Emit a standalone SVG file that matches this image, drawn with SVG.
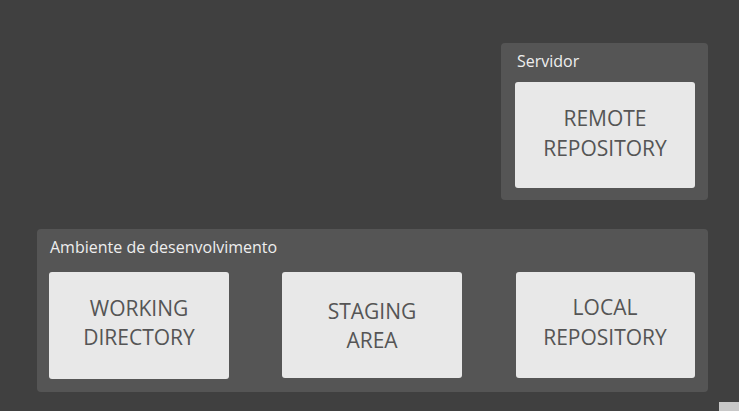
<svg xmlns="http://www.w3.org/2000/svg" width="739" height="411" viewBox="0 0 739 411">
<style>
.bg{fill:#404040}
.cont{fill:#555555}
.box{fill:#e8e8e8}
.lbl{font-family:"Open Sans","Liberation Sans",sans-serif;font-size:16px;fill:#eeeeee}
.txt{font-family:"Open Sans","Liberation Sans",sans-serif;font-size:21px;fill:#555555;text-anchor:middle}
</style>
<rect class="bg" x="0" y="0" width="739" height="411"/>
<g id="servidor">
<rect class="cont" x="501" y="43" width="207" height="157" rx="4"/>
<text class="lbl" x="517" y="67">Servidor</text>
</g>
<g id="remote">
<rect class="box" x="515" y="82" width="180" height="106" rx="3"/>
<text class="txt" x="605" y="126">REMOTE</text>
<text class="txt" x="605" y="156">REPOSITORY</text>
</g>
<g id="ambiente">
<rect class="cont" x="37" y="229" width="671" height="163" rx="4"/>
<text class="lbl" x="50" y="253">Ambiente de desenvolvimento</text>
</g>
<g id="working">
<rect class="box" x="49" y="272" width="180" height="107" rx="3"/>
<text class="txt" x="139" y="316">WORKING</text>
<text class="txt" x="139" y="345">DIRECTORY</text>
</g>
<g id="staging">
<rect class="box" x="282" y="272" width="180" height="106" rx="3"/>
<text class="txt" x="372" y="319">STAGING</text>
<text class="txt" x="372" y="348">AREA</text>
</g>
<g id="local">
<rect class="box" x="516" y="272" width="179" height="106" rx="3"/>
<text class="txt" x="605" y="315">LOCAL</text>
<text class="txt" x="605" y="345">REPOSITORY</text>
</g>
<g id="connectors"></g>
<rect x="719" y="402" width="20" height="9" fill="#c8c8c8"/>
</svg>
